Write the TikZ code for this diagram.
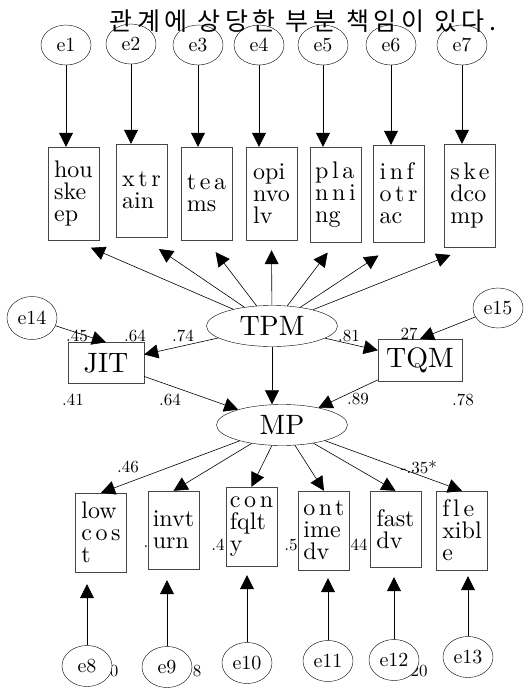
\documentclass[tikz,border=0pt]{standalone}
\usepackage{fontspec}
\setmainfont{lmroman10-regular}[Extension=.otf]
\usepackage{tikz}
\usetikzlibrary{arrows.meta, positioning, shapes.geometric}
\newfontfamily\krfont{Noto Sans CJK KR}[LetterSpace=18]
\definecolor{boxGray}{RGB}{70,70,70}
\newcommand{\lsp}[1]{{\addfontfeatures{LetterSpace=15, Ligatures=NoCommon}#1}}

\begin{document}
\begin{tikzpicture}[x=1pt, y=-1pt,
  err/.style={ellipse, draw, fill=white, minimum width=50pt, minimum height=40pt,
              inner sep=0pt, font=\fontsize{20}{22}\selectfont},
  obs/.style={rectangle, draw=boxGray, fill=white, minimum width=51pt, minimum height=93pt,
              inner sep=2pt, align=left, font=\fontsize{24}{22}\selectfont},
  lat/.style={ellipse, draw, minimum width=131pt, minimum height=41pt, inner sep=0pt,
              font=\fontsize{28}{30}\selectfont},
  fac/.style={rectangle, draw=boxGray, fill=white, minimum height=41pt, inner sep=0pt,
              font=\fontsize{28}{30}\selectfont},
  coef/.style={font=\fontsize{17}{19}\selectfont, inner sep=0pt},
  arrow/.style={-{Triangle[length=14pt, width=14pt]}, line width=0.6pt}
]
\useasboundingbox (0,0) rectangle (528,689);

% Errors of TPM indicators
\node[err] (e1) at (66,45) {e1};
\node[err] (e2) at (131,44) {e2};
\node[err] (e3) at (198,45) {e3};
\node[err] (e4) at (259,45) {e4};
\node[err] (e5) at (323,45) {e5};
\node[err] (e6) at (391,45) {e6};
\node[err] (e7) at (462,45) {e7};

% Caption line
\node[font=\fontsize{25}{27}\selectfont\krfont] (title) at (303,21) {관계에 상당한 부분 책임이 있다.};

% TPM indicators
\node[obs] (hk) at (73.5,193.5) {hou\\ske\\ep};
\node[obs] (xt) at (141.5,190.5) {\lsp{xtr}\\ain};
\node[obs] (tm) at (206.5,193.5) {\lsp{tea}\\ms};
\node[obs] (op) at (271.5,193.5) {opi\\nvo\\lv};
\node[obs, minimum height=95pt] (pl) at (335.5,194.5) {\lsp{pla}\\\lsp{nni}\\ng};
\node[obs, minimum height=97pt] (it) at (398.5,193.5) {\lsp{inf}\\\lsp{otr}\\ac};
\node[obs, minimum height=103pt] (sk) at (470,195.5) {\lsp{ske}\\dco\\mp};

\draw[arrow] (e1) -- (e1 |- hk.north);
\draw[arrow] (e2) -- (e2 |- xt.north);
\draw[arrow] (e3) -- (e3 |- tm.north);
\draw[arrow] (e4) -- (e4 |- op.north);
\draw[arrow] (e5) -- (e5 |- pl.north);
\draw[arrow] (e6) -- (e6 |- it.north);
\draw[arrow] (e7) -- (e7 |- sk.north);

% Latent factors
\node[lat] (tpm) at (272,326) {TPM};
\node[lat] (mp) at (282,425) {MP};

\draw[arrow, shorten >=19pt] (tpm) -- (hk.south);
\draw[arrow, shorten >=21pt] (tpm) -- (xt.south);
\draw[arrow, shorten >=15pt] (tpm) -- (tm.south);
\draw[arrow, shorten >=10pt] (tpm) -- (op.south);
\draw[arrow, shorten >=13pt] (tpm) -- (pl.south);
\draw[arrow, shorten >=24pt] (tpm) -- (it.south);
\draw[arrow, shorten >=21pt] (tpm) -- (sk.south);

% JIT and TQM
\node[fac, minimum width=76pt] (jit) at (106,363) {JIT};
\node[fac, minimum width=84pt, minimum height=42pt] (tqm) at (420,360) {TQM};
\node[err, minimum height=43pt] (e14) at (32,318) {e14};
\node[err] (e15) at (498,308) {e15};

\draw[arrow] (e14) -- (jit.north);
\draw[arrow] (e15) -- (tqm.north);
\draw[arrow] (tpm) -- (jit);
\draw[arrow] (tpm) -- (tqm);
\draw[arrow] (tpm) -- (tpm |- mp.north);
\draw[arrow] (jit) -- (mp);
\draw[arrow] (tqm) -- (mp);

\node[coef] (c45) at (77,336) {.45};
\node[coef] (c64a) at (135,336) {.64};
\node[coef] (c74) at (183,336) {.74};
\node[coef] (c81) at (349,336) {.81};
\node[coef] (c27) at (409,334) {27};
\node[coef] (c41) at (73,400) {.41};
\node[coef] (c64b) at (170,400) {.64};
\node[coef] (c89) at (358,399) {.89};
\node[coef] (c78) at (463,400) {.78};

% MP indicators
\node[obs, minimum height=79pt] (lc) at (101,532.5) {low\\\lsp{cos}\\t};
\node[obs, minimum height=78pt] (iv) at (173.5,530) {invt\\urn};
\node[obs, minimum height=79pt] (cq) at (251.5,526.5) {\lsp{con}\\fqlt\\y};
\node[obs, minimum height=79pt] (od) at (324,530.5) {\lsp{ont}\\ime\\dv};
\node[obs, minimum height=76pt] (fd) at (395.5,529) {fast\\dv};
\node[obs, minimum height=79pt] (fx) at (462,530.5) {\lsp{f{}le}\\xibl\\e};

\draw[arrow] (mp) -- (lc.north);
\draw[arrow] (mp) -- (iv.north);
\draw[arrow] (mp) -- (cq.north);
\draw[arrow] (mp) -- (od.north);
\draw[arrow] (mp) -- (fd.north);
\draw[arrow] (mp) -- (fx.north);

\node[coef] (c46) at (128,467) {.46};
\node[coef] (c35) at (419,467) {-.35*};
\node[coef] (f1) at (146,547) {.};
\node[coef] (f2) at (218,545) {.4};
\node[coef] (f3) at (291,545) {.5};
\node[coef] (f4) at (359,545) {44};

% Errors of MP indicators
\node[coef] (f5) at (114,671) {0};
\node[coef] (f6) at (197,671) {8};
\node[coef] (f7) at (419,671) {20};
\node[err, minimum height=41pt] (e8) at (87,666) {e8};
\node[err, minimum height=41pt] (e9) at (167,667) {e9};
\node[err, minimum height=41pt] (e10) at (247,663) {e10};
\node[err, minimum height=41pt] (e11) at (328,661) {e11};
\node[err, minimum height=41pt] (e12) at (394,660) {e12};
\node[err, minimum height=41pt] (e13) at (468,657) {e13};

\draw[arrow, shorten >=12pt] (e8) -- (e8 |- lc.south);
\draw[arrow, shorten >=11pt] (e9) -- (e9 |- iv.south);
\draw[arrow, shorten >=9pt] (e10) -- (e10 |- cq.south);
\draw[arrow, shorten >=8pt] (e11) -- (e11 |- od.south);
\draw[arrow, shorten >=10pt] (e12) -- (e12 |- fd.south);
\draw[arrow, shorten >=6pt] (e13) -- (e13 |- fx.south);

\end{tikzpicture}
\end{document}
